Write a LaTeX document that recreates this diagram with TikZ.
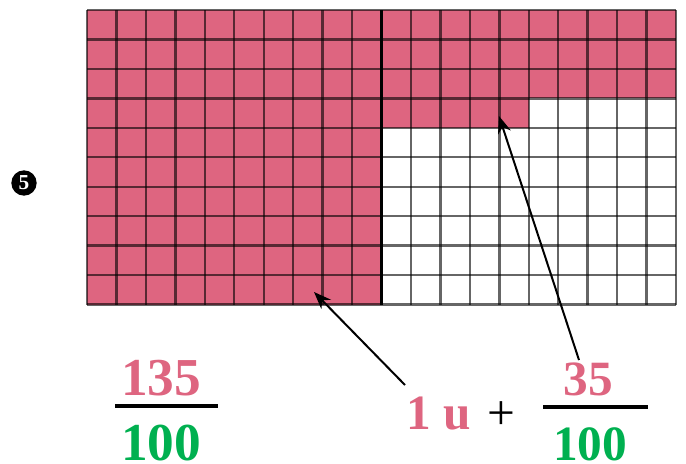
\documentclass[tikz,border=0pt]{standalone}
\usepackage{fontspec}
\setmainfont{Liberation Serif}
\usetikzlibrary{arrows.meta}
\definecolor{rosa}{RGB}{222,101,128}
\definecolor{verde}{RGB}{0,176,80}
\tikzset{
  gridline/.style={black, opacity=0.6, line width=1.8pt},
  pointer/.style={-{Stealth[length=13pt,width=10pt]}, line width=1.5pt},
  numtext/.style={font=\fontsize{#1}{#1}\selectfont\bfseries, inner sep=0pt, anchor=base},
  numtext/.default=37,
  fracbar/.style={line width=3pt, line cap=butt},
}
\begin{document}
\begin{tikzpicture}[x=0.75pt, y=-0.75pt, line join=round]
	\useasboundingbox (0,0) rectangle (686,464);
	\def\c{29.45}
	\path 	(87,10) coordinate (G)
	(381.5,10) coordinate (M)
	(676,304.5) coordinate (H)
	(381.5,304.5) coordinate (N)
	(115,406) coordinate (barL1)
	(218,406) coordinate (barR1)
	(543,407) coordinate (barL2)
	(648,407) coordinate (barR2)
	(405,385) coordinate (tail1)
	(314,292) coordinate (tip1)
	(579,360) coordinate (tail2)
	(499,116) coordinate (tip2);
	% shaded parts
	\fill[rosa] (G) rectangle (N);
	\fill[rosa] (M) rectangle (676,{10+3*\c});
	\fill[rosa] (381.5,{10+3*\c}) rectangle ({381.5+5*\c},{10+4*\c});
	% grids
	\foreach \i in {0,...,20}
	\draw[gridline] ({87+\i*\c},10) -- ({87+\i*\c},304.5);
	\foreach \j in {0,...,9}
	\draw[gridline] (87,{10+\j*\c}) -- (676,{10+\j*\c});
	\draw[gridline] (87,304.5) -- (H);
	\draw[line width=2.3pt] (M) -- (N);
	% marker
	\node[circle, fill=black, text=white, inner sep=0pt, minimum size=19pt,
	font=\fontsize{16}{16}\selectfont\bfseries] (mark) at (24,183) {5};
	% fractions
	\node[numtext=40, text=rosa] (num1) at (161,395) {135};
	\node[numtext=40, text=verde] (den1) at (161,460) {100};
	\draw[fracbar] (barL1) -- (barR1);
	\node[numtext, text=rosa] (unit) at (438.5,429) {1 u};
	\node[numtext, font=\fontsize{37}{37}\selectfont\mdseries] (plus) at (501,429) {+};
	\node[numtext, text=rosa] (num2) at (588,395) {35};
	\node[numtext, text=verde] (den2) at (590,460) {100};
	\draw[fracbar] (barL2) -- (barR2);
	% pointers
	\draw[pointer] (tail1) -- (tip1);
	\draw[pointer] (tail2) -- (tip2);
\end{tikzpicture}
\end{document}
